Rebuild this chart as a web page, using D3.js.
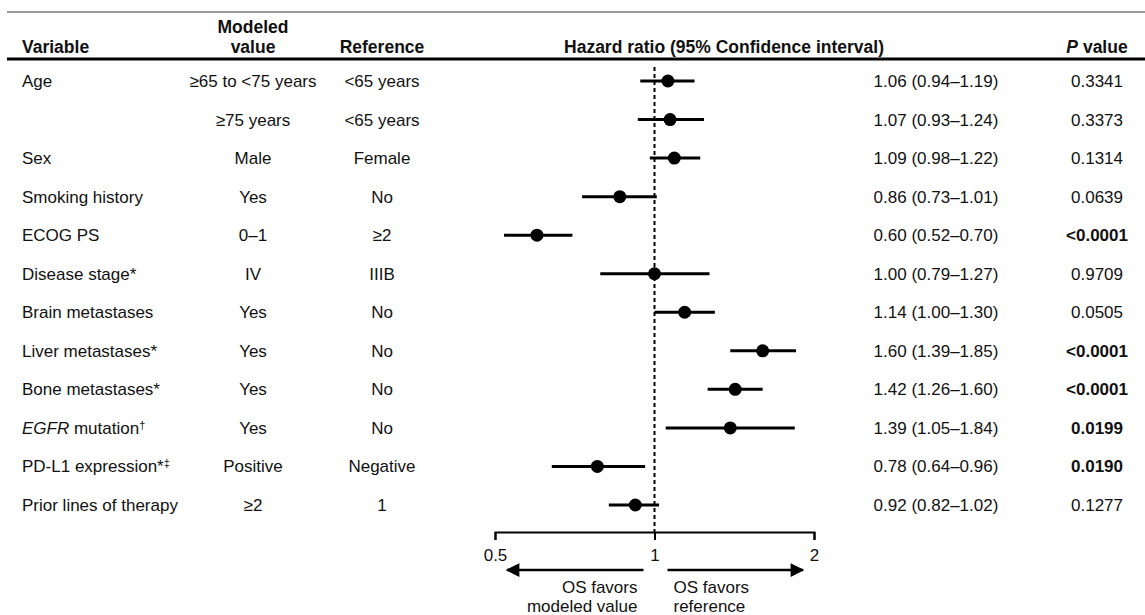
<!DOCTYPE html>
<html>
<head>
<meta charset="utf-8">
<script src="https://cdn.jsdelivr.net/npm/d3@7"></script>
<style>
  body { margin: 0; background: #fff; }
  text { font-family: 'Liberation Sans', Arial, sans-serif; font-size: 17px; fill: #111; }
  .head { font-weight: bold; font-size: 17.5px; }
</style>
</head>
<body>
<div id="main"></div>
<script>
// Table data
var variables = ['Age', '', 'Sex', 'Smoking history', 'ECOG PS', 'Disease stage*', 'Brain metastases',
  'Liver metastases*', 'Bone metastases*', 'EGFR mutation\u2020', 'PD-L1 expression*\u2021', 'Prior lines of therapy'];
var modeled = ['\u226565 to <75 years', '\u226575 years', 'Male', 'Yes', '0\u20131', 'IV', 'Yes', 'Yes', 'Yes', 'Yes', 'Positive', '\u22652'];
var references = ['<65 years', '<65 years', 'Female', 'No', '\u22652', 'IIIB', 'No', 'No', 'No', 'No', 'Negative', '1'];
var hr = [1.06, 1.07, 1.09, 0.86, 0.60, 1.00, 1.14, 1.60, 1.42, 1.39, 0.78, 0.92];
var lower = [0.94, 0.93, 0.98, 0.73, 0.52, 0.79, 1.00, 1.39, 1.26, 1.05, 0.64, 0.82];
var upper = [1.19, 1.24, 1.22, 1.01, 0.70, 1.27, 1.30, 1.85, 1.60, 1.84, 0.96, 1.02];
var pValues = ['0.3341', '0.3373', '0.1314', '0.0639', '<0.0001', '0.9709', '0.0505', '<0.0001', '<0.0001', '0.0199', '0.0190', '0.1277'];
var tickValues = [0.5, 1, 2];

var width = 1145, height = 615;

var svg = d3.select('#main').append('svg')
  .attr('width', width)
  .attr('height', height);

// scales
var xScale = d3.scaleLog().base(2)
  .domain([0.5, 2])
  .range([495, 814]);

var yScale = d3.scalePoint()
  .domain(d3.range(variables.length))
  .range([81, 505]);

var col = { variable: 22, modeled: 253, reference: 382, hrText: 936, pValue: 1097 };

// header rules
svg.append('line')
  .attr('x1', 7).attr('x2', width)
  .attr('y1', 12).attr('y2', 12)
  .attr('stroke', '#9a9a9a').attr('stroke-width', 2);

svg.append('line')
  .attr('x1', 7).attr('x2', width)
  .attr('y1', 59).attr('y2', 59)
  .attr('stroke', '#000').attr('stroke-width', 3);

// header texts
svg.append('text').attr('class', 'head').attr('x', col.variable).attr('y', 53).text('Variable');
svg.append('text').attr('class', 'head').attr('x', col.modeled).attr('y', 33).attr('text-anchor', 'middle').text('Modeled');
svg.append('text').attr('class', 'head').attr('x', col.modeled).attr('y', 53).attr('text-anchor', 'middle').text('value');
svg.append('text').attr('class', 'head').attr('x', col.reference).attr('y', 53).attr('text-anchor', 'middle').text('Reference');
svg.append('text').attr('class', 'head').attr('x', 724).attr('y', 53).attr('text-anchor', 'middle').text('Hazard ratio (95% Confidence interval)');
var pHead = svg.append('text').attr('class', 'head').attr('x', col.pValue).attr('y', 53).attr('text-anchor', 'middle');
pHead.append('tspan').style('font-style', 'italic').text('P');
pHead.append('tspan').text(' value');

// rows
var rows = svg.selectAll('.row')
  .data(d3.range(variables.length))
  .enter()
  .append('g')
  .attr('class', 'row')
  .attr('transform', (i) => 'translate(0,' + yScale(i) + ')');

// variable names, with italic gene name and small superscript daggers
rows.append('text')
  .attr('x', col.variable)
  .attr('y', 6)
  .each(function (i) {
    var t = d3.select(this);
    var label = variables[i];
    var m = label.match(/^(EGFR)?(.*?)([\u2020\u2021]?)$/);
    if (m[1]) t.append('tspan').style('font-style', 'italic').text(m[1]);
    t.append('tspan').text(m[2]);
    if (m[3]) t.append('tspan').attr('dy', -5).style('font-size', '11px').text(m[3]);
  });

rows.append('text')
  .attr('x', col.modeled).attr('y', 6)
  .attr('text-anchor', 'middle')
  .text((i) => modeled[i]);

rows.append('text')
  .attr('x', col.reference).attr('y', 6)
  .attr('text-anchor', 'middle')
  .text((i) => references[i]);

var fmt = d3.format('.2f');
rows.append('text')
  .attr('x', col.hrText).attr('y', 6)
  .attr('text-anchor', 'middle')
  .text((i) => fmt(hr[i]) + ' (' + fmt(lower[i]) + '\u2013' + fmt(upper[i]) + ')');

rows.append('text')
  .attr('x', col.pValue).attr('y', 6)
  .attr('text-anchor', 'middle')
  .style('font-weight', (i) => (pValues[i] === '<0.0001' || parseFloat(pValues[i]) < 0.05) ? 'bold' : 'normal')
  .text((i) => pValues[i]);

// reference line at HR = 1
svg.append('line')
  .attr('x1', xScale(1)).attr('x2', xScale(1))
  .attr('y1', 67).attr('y2', 532)
  .attr('stroke', '#000')
  .attr('stroke-width', 2)
  .attr('stroke-dasharray', '4,3');

// confidence intervals and point estimates
rows.append('line')
  .attr('x1', (i) => xScale(lower[i]))
  .attr('x2', (i) => xScale(upper[i]))
  .attr('y1', 0).attr('y2', 0)
  .attr('stroke', '#000')
  .attr('stroke-width', 3);

rows.append('circle')
  .attr('cx', (i) => xScale(hr[i]))
  .attr('cy', 0)
  .attr('r', 6.5)
  .attr('fill', '#000');

// x axis
var xAxis = d3.axisBottom(xScale)
  .tickValues(tickValues)
  .tickFormat((d) => d)
  .tickSize(8)
  .tickSizeOuter(8)
  .tickPadding(9);

var axisG = svg.append('g')
  .attr('transform', 'translate(0,532)')
  .call(xAxis);

axisG.select('.domain').attr('stroke-width', 2);
axisG.selectAll('.tick line').attr('stroke-width', 2);
axisG.selectAll('.tick text')
  .style('font-family', "'Liberation Sans', Arial, sans-serif")
  .style('font-size', '17px')
  .attr('fill', '#111');

// direction arrows
var defs = svg.append('defs');
defs.append('marker')
  .attr('id', 'arrow')
  .attr('viewBox', '0 0 10 10')
  .attr('refX', 9).attr('refY', 5)
  .attr('markerWidth', 8).attr('markerHeight', 5.5)
  .attr('markerUnits', 'strokeWidth')
  .attr('orient', 'auto')
  .append('path')
  .attr('d', 'M0,0 L10,5 L0,10 Z')
  .attr('fill', '#000');

svg.append('line')
  .attr('x1', xScale(1) - 11).attr('x2', xScale(0.5) + 12)
  .attr('y1', 570).attr('y2', 570)
  .attr('stroke', '#000').attr('stroke-width', 2.5)
  .attr('marker-end', 'url(#arrow)');

svg.append('line')
  .attr('x1', xScale(1) + 13).attr('x2', xScale(2) - 11)
  .attr('y1', 570).attr('y2', 570)
  .attr('stroke', '#000').attr('stroke-width', 2.5)
  .attr('marker-end', 'url(#arrow)');

svg.append('text').attr('x', xScale(1) - 17).attr('y', 593).attr('text-anchor', 'end').text('OS favors');
svg.append('text').attr('x', xScale(1) - 17).attr('y', 612).attr('text-anchor', 'end').text('modeled value');
svg.append('text').attr('x', xScale(1) + 19).attr('y', 593).text('OS favors');
svg.append('text').attr('x', xScale(1) + 19).attr('y', 612).text('reference');
</script>
</body>
</html>
